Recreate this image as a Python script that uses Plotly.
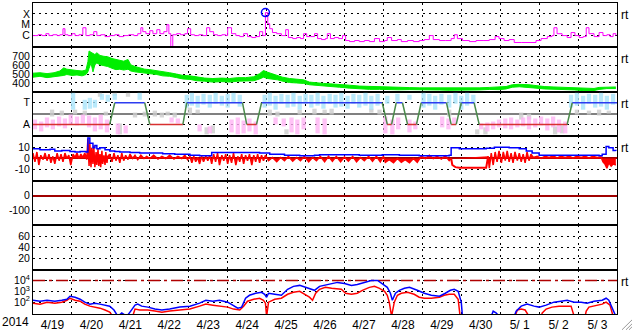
import plotly.graph_objects as go

# ---------------- data (time in days since 2014-04-19 00:00 UT) ----------------
day_labels = ["4/19", "4/20", "4/21", "4/22", "4/23", "4/24", "4/25", "4/26",
              "4/27", "4/28", "4/29", "4/30", "5/ 1", "5/ 2", "5/ 3"]
year_label = "2014"

# X-ray flux (W/m2)
xray_t = [0.00, 0.13, 0.23, 0.33, 0.41, 0.51, 0.62, 0.69, 0.77, 0.82, 0.90, 1.00, 1.08, 1.18, 1.28, 1.36,
          1.46, 1.56, 1.64, 1.74, 1.85, 1.97, 2.10, 2.21, 2.33, 2.46, 2.59, 2.69, 2.77, 2.82, 2.90, 3.00,
          3.08, 3.18, 3.26, 3.36, 3.44, 3.49, 3.54, 3.59, 3.69, 3.79, 3.90, 3.97, 4.05, 4.15, 4.26, 4.36,
          4.46, 4.54, 4.64, 4.74, 4.85, 4.95, 5.00, 5.10, 5.21, 5.31, 5.41, 5.51, 5.62, 5.72, 5.82, 5.90,
          5.97, 6.03, 6.08, 6.15, 6.26, 6.38, 6.49, 6.56, 6.67, 6.77, 6.87, 6.95, 7.03, 7.13, 7.23, 7.31,
          7.41, 7.51, 7.56, 7.64, 7.74, 7.85, 7.95, 8.03, 8.13, 8.26, 8.38, 8.51, 8.64, 8.77, 8.90, 9.03,
          9.10, 9.21, 9.36, 9.46, 9.62, 9.77, 9.92, 10.05, 10.18, 10.28, 10.44, 10.59, 10.74, 10.82, 10.90,
          11.03, 11.21, 11.38, 11.56, 11.72, 11.87, 11.97, 12.10, 12.23, 12.36, 12.54, 12.74, 12.92, 13.05,
          13.21, 13.33, 13.38, 13.46, 13.59, 13.72, 13.82, 13.92, 14.03, 14.13, 14.21, 14.28, 14.41, 14.54,
          14.64, 14.74, 14.82, 14.90, 14.97]
xray_flux = [1.0e-6, 1.2e-6, 1.0e-6, 1.5e-6, 1.0e-6, 1.2e-6, 1.0e-6, 1.2e-6, 4.3e-6, 1.2e-6, 1.0e-6, 1.5e-6,
             1.0e-6, 1.2e-6, 5.3e-6, 1.0e-6, 1.2e-6, 2.3e-6, 1.0e-6, 1.2e-6, 8.1e-7, 1.0e-6, 1.2e-6, 8.1e-7,
             1.0e-6, 1.2e-6, 1.0e-6, 1.5e-6, 5.3e-6, 2.3e-6, 1.5e-6, 2.8e-6, 1.5e-6, 3.5e-6, 1.5e-6, 2.3e-6,
             1.0e-5, 1.5e-6, 5e-8, 1.2e-6, 1.5e-6, 1.2e-6, 1.5e-6, 4.3e-6, 1.2e-6, 1.0e-6, 1.2e-6, 1.0e-6,
             5.3e-6, 2.3e-6, 1.2e-6, 1.0e-6, 1.2e-6, 1.0e-6, 5.3e-6, 1.5e-6, 1.0e-6, 8.1e-7, 1.5e-6, 8.1e-7,
             6.6e-7, 8.1e-7, 2.3e-6, 1.0e-6, 1.3e-4, 1.23e-5, 4.3e-6, 1.9e-6, 1.5e-6, 1.0e-6, 3.5e-6, 6.6e-7,
             5.3e-7, 6.6e-7, 5.3e-7, 1.5e-6, 8.1e-7, 8.1e-7, 1.5e-6, 5.3e-7, 4.3e-7, 5.3e-7, 1.5e-6, 5.3e-7,
             6.6e-7, 5.3e-7, 1.0e-6, 3.5e-7, 2.8e-7, 3.5e-7, 2.8e-7, 3.5e-7, 2.8e-7, 5.3e-7, 2.8e-7, 3.5e-7,
             6.6e-7, 3.5e-7, 4.3e-7, 2.8e-7, 3.5e-7, 2.8e-7, 3.5e-7, 4.3e-7, 1.0e-6, 4.3e-7, 3.5e-7, 3.5e-7,
             5.3e-7, 1.2e-6, 5.3e-7, 3.5e-7, 2.8e-7, 3.5e-7, 3.5e-7, 4.3e-7, 8.1e-7, 5.3e-7, 3.5e-7, 4.3e-7,
             2.3e-7, 2.3e-7, 2.3e-7, 3.5e-7, 5.3e-7, 8.1e-7, 1.0e-6, 5.3e-6, 1.5e-6, 1.0e-6, 6.6e-7, 1.9e-6,
             1.0e-6, 6.6e-7, 8.1e-7, 5.3e-6, 1.5e-6, 8.1e-7, 1.9e-6, 1.0e-6, 1.2e-6, 8.1e-7, 1.5e-6, 1.0e-6]
flare_t = [5.97]
flare_flux = [1.3e-4]

# Solar wind speed (km/s): lower / upper edge of the noisy trace
speed_t = [0.00, 0.18, 0.36, 0.54, 0.69, 0.79, 0.87, 1.00, 1.13, 1.26, 1.36, 1.41, 1.44, 1.49, 1.54, 1.59,
           1.64, 1.72, 1.82, 1.92, 2.03, 2.13, 2.23, 2.33, 2.44, 2.51, 2.62, 2.74, 2.87, 3.00, 3.18, 3.33,
           3.51, 3.69, 3.85, 4.03, 4.21, 4.41, 4.62, 4.85, 5.05, 5.26, 5.46, 5.67, 5.82, 5.92, 6.03, 6.15,
           6.28, 6.41, 6.59, 6.77, 6.95, 7.10, 7.28, 7.46, 7.64, 7.87, 8.13, 8.38, 8.64, 8.90, 9.15, 9.41,
           9.67, 9.92, 10.18, 10.44, 10.69, 10.95, 11.21, 11.46, 11.72, 11.97, 12.15, 12.31, 12.49, 12.74,
           12.92, 13.13, 13.38, 13.64, 13.90, 14.15, 14.41, 14.54, 14.74, 14.97]
speed_lo = [465, 475, 460, 470, 475, 485, 495, 485, 490, 480, 495, 525, 565, 625, 525, 605,
            625, 605, 595, 585, 565, 550, 555, 545, 555, 535, 525, 520, 515, 510, 495, 480,
            475, 460, 445, 440, 425, 420, 410, 415, 410, 420, 420, 425, 445, 465, 450, 445,
            435, 420, 405, 400, 395, 380, 372, 363, 358, 352, 342, 333, 328, 328, 323, 323,
            325, 321, 323, 321, 318, 318, 322, 322, 327, 325, 333, 352, 357, 352,
            342, 333, 332, 327, 322, 313, 315, 327, 337, 337]
speed_hi = [510, 515, 505, 515, 535, 570, 555, 545, 540, 535, 545, 640, 760, 745, 730, 720,
            740, 710, 700, 695, 675, 665, 655, 645, 665, 605, 585, 570, 555, 550, 540, 525,
            515, 500, 485, 480, 465, 455, 450, 455, 450, 460, 460, 470, 505, 540, 520, 500,
            485, 465, 450, 440, 435, 410, 400, 395, 390, 385, 375, 365, 360, 355, 350, 350,
            348, 345, 345, 343, 340, 340, 345, 345, 350, 355, 360, 380, 385, 380,
            370, 360, 355, 350, 345, 335, 338, 350, 356, 355]

# IMF sector: T = +1, A = -1 (predicted polarity, breakpoints)
sector_t = [0.00, 1.97, 2.10, 2.87, 3.00, 3.85, 3.95, 5.38, 5.49, 5.74, 5.87, 8.97, 9.10, 9.21, 9.33,
            9.49, 9.62, 9.85, 9.97, 10.62, 10.74, 10.87, 11.00, 11.33, 11.46, 13.72, 13.85, 15.00]
sector_v = [-1, -1, 1, 1, -1, -1, 1, 1, -1, -1, 1, 1, -1, -1, 1,
            1, -1, -1, 1, 1, -1, -1, 1, 1, -1, -1, 1, 1]

# observed field direction clouds (time, lower, upper) in sector units
toward_t = [1.03, 1.33, 1.46, 1.59, 1.77, 1.92, 2.10, 2.74, 3.95, 4.08, 4.23, 4.38, 4.54, 4.69, 4.85, 5.00,
            5.15, 5.31, 5.95, 6.08, 6.23, 6.38, 6.54, 6.69, 6.85, 7.00, 7.15, 7.31, 7.46, 7.62, 7.77, 7.92,
            8.08, 8.23, 8.38, 8.54, 8.69, 8.85, 9.10, 9.36, 9.67, 10.03, 10.18, 10.33, 10.49, 10.69, 10.85,
            11.00, 11.15, 11.31, 13.82, 13.97, 14.13, 14.28, 14.44, 14.59, 14.74, 14.90]
toward_lo = [0.36, 0.36, 0.45, 0.55, 1.27, 1.09, 1.27, 1.27, 0.55, 0.73, 0.55, 0.82, 0.55, 0.91, 0.73, 0.55,
             1.00, 0.64, 0.55, 0.73, 0.36, 0.91, 0.55, 0.64, 0.36, 0.91, 0.55, 0.73, 0.45, 0.91, 0.55, 0.64,
             0.45, 0.91, 0.55, 0.73, 0.36, 0.73, 0.91, 1.09, 1.27, 0.55, 0.73, 0.36, 0.82, 0.55, 0.91,
             0.36, 0.73, 0.91, 0.55, 0.73, 0.36, 0.91, 0.55, 0.64, 0.36, 0.82]
toward_hi = [1.91, 1.27, 1.45, 1.27, 1.82, 1.73, 1.82, 1.91, 1.73, 1.91, 1.64, 1.82, 1.73, 1.91, 1.64, 1.82,
             1.91, 1.73, 1.73, 1.91, 1.64, 1.82, 1.73, 1.91, 1.64, 1.82, 1.73, 1.91, 1.64, 1.82, 1.73, 1.91,
             1.64, 1.82, 1.73, 1.91, 1.64, 1.82, 1.64, 1.82, 1.73, 1.91, 1.82, 1.64, 1.82, 1.73, 1.91,
             1.64, 1.91, 1.73, 1.73, 1.91, 1.64, 1.82, 1.73, 1.91, 1.64, 1.82]
away_t = [0.05, 0.21, 0.36, 0.51, 0.67, 0.82, 0.97, 1.13, 1.28, 1.44, 1.59, 1.74, 1.90, 2.18, 2.38, 3.56,
          3.72, 4.28, 4.54, 5.10, 5.26, 5.41, 5.56, 5.72, 6.23, 6.44, 6.64, 6.79, 6.95, 7.31, 7.49, 9.05,
          9.23, 9.38, 9.67, 9.82, 10.51, 10.67, 10.82, 11.51, 11.67, 11.82, 11.97, 12.13, 12.28, 12.44,
          12.59, 12.74, 12.90, 13.05, 13.21, 13.36, 13.51, 13.67]
away_lo = [-1.45, -1.64, -1.27, -1.45, -1.18, -1.36, -1.00, -1.09, -0.91, -1.27, -1.64, -1.45, -1.73, -1.91,
           -1.82, -0.82, -0.91, -1.64, -1.82, -1.73, -1.91, -1.82, -1.64, -1.91, -1.00, -1.18, -1.73, -1.91,
           -1.45, -1.82, -1.91, -1.82, -1.91, -1.45, -1.73, -1.45, -1.27, -1.45, -0.91, -1.45, -1.64, -1.45,
           -1.27, -1.36, -1.45, -1.27, -1.18, -1.45, -1.27, -1.09, -1.55, -1.27, -1.73, -1.82]
away_hi = [-0.55, -0.73, -0.36, -0.55, -0.27, -0.45, -0.09, -0.27, -0.09, -0.18, -0.36, -0.09, -0.55, -0.91,
           -1.09, -0.36, -0.45, -1.00, -1.18, -0.55, -0.36, -0.64, -0.45, -0.73, -0.36, -0.45, -0.36, -0.55,
           -0.36, -0.36, -0.45, -0.27, -0.55, -0.36, -0.55, -0.73, -0.27, -0.45, -0.36, -0.91, -0.82, -0.73,
           -0.55, -0.45, -0.36, -0.55, -0.36, -0.27, -0.45, -0.27, -0.45, -0.27, -0.55, -0.73]
mixed_t = [0.49, 0.74, 1.08, 1.33, 1.72, 1.87, 2.10, 2.23, 2.44, 2.62, 2.87, 3.13, 3.31, 3.46, 3.64, 4.03,
           4.23, 4.46, 4.62, 6.08, 6.28, 6.51, 6.85, 7.23, 7.49, 7.67, 8.69, 8.90, 10.69, 11.41, 11.62,
           12.54, 12.74, 13.41, 13.59, 13.97, 14.28, 14.54, 14.79]
mixed_lo = [-0.27, -0.18, -0.09, -0.18, 1.55, -0.18, 1.64, -1.91, 1.55, -0.36, -0.27, -0.27, -0.36, -0.18,
            -0.36, -0.09, 0.00, -1.91, -1.82, -0.18, -0.27, -1.91, -0.09, -0.09, 0.00, -0.09, 0.09, -0.09,
            -0.27, -1.91, -1.91, -0.55, -0.55, -1.91, -1.82, -0.09, -0.09, -0.18, 0.00]
mixed_hi = [0.36, 0.27, 0.36, 0.27, 1.91, 0.18, 1.91, -0.91, 1.91, 0.09, 0.18, 0.27, 0.09, 0.18,
            0.09, 0.55, 0.36, -1.27, -1.09, 0.36, 0.18, -1.45, 0.36, 0.45, 0.36, 0.45, 0.45, 0.36,
            0.36, -1.45, -1.27, 0.09, 0.00, -1.18, -1.09, 0.36, 0.27, 0.36, 0.27]

# IMF Bt (nT)
bt_t = [0.00, 0.18, 0.44, 0.56, 0.74, 0.95, 1.08, 1.21, 1.36, 1.41, 1.46, 1.54, 1.59, 1.64, 1.72, 1.85,
        1.97, 2.10, 2.23, 2.49, 2.74, 3.00, 3.33, 3.64, 4.03, 4.28, 4.54, 4.59, 4.92, 5.23, 5.56, 5.82,
        6.08, 6.46, 6.85, 7.23, 7.36, 7.87, 8.38, 8.97, 9.41, 9.92, 10.44, 10.69, 10.74, 10.95, 11.21,
        11.64, 11.85, 12.23, 12.49, 12.67, 12.82, 13.00, 13.51, 14.03, 14.54, 14.62, 14.72, 14.79, 14.90,
        14.97]
bt_val = [9, 8, 8.5, 7, 7.5, 6.5, 6, 6.5, 6, 19, 14, 10, 12, 9, 10, 8,
          7, 6.5, 6, 5.5, 5, 5, 4.5, 4, 3, 2.5, 2.5, 5.5, 5.5, 5.5, 5.5, 5,
          4, 3, 2.5, 3, 3.5, 3.5, 3, 3.5, 3, 2.5, 2.5, 3, 10, 9, 9,
          9.5, 10.5, 10, 9, 7, 5, 3, 3, 3, 2.5, 4, 11, 10, 7.5, 7]

# IMF Bz (nT): noisy intervals (alternating dips / peaks) ...
bz_t = [0.00, 0.05, 0.10, 0.15, 0.20, 0.26, 0.31, 0.36, 0.41, 0.46, 0.51, 0.56, 0.62, 0.67, 0.72, 0.77,
        0.82, 0.87, 0.92, 0.97, 1.03, 1.08, 1.13, 1.18, 1.23, 1.28, 1.33, 1.38, 1.41, 1.44, 1.46, 1.49,
        1.51, 1.54, 1.56, 1.59, 1.62, 1.64, 1.67, 1.69, 1.72, 1.74, 1.77, 1.79, 1.82, 1.85, 1.87, 1.90,
        1.92, 1.97, 2.03, 2.08, 2.13, 2.18, 2.23, 2.28, 2.33, 2.38, 2.44, 2.49, 2.56, 2.62, 2.69, 2.77,
        2.85, 2.92, 3.00, 3.10, 3.21, 3.31, 3.41, 3.51, 3.62, 3.72, 3.82, 3.90, 3.97, 4.03, 4.08, 4.13,
        4.18, 4.23, 4.28, 4.33, 4.38, 4.44, 4.49, 4.54, 4.59, 4.64, 4.69, 4.74, 4.79, 4.85, 4.90, 4.95,
        5.00, 5.05, 5.10, 5.15, 5.21, 5.26, 5.31, 5.36, 5.41, 5.46, 5.51, 5.56, 5.62, 5.67, 5.72, 5.77,
        5.82, 5.87, 5.92, 5.97, 6.05, 6.15, 6.26, 6.36, 6.46, 6.56, 6.67, 6.77, 6.87, 6.97, 7.08, 7.18,
        7.28, 7.38, 7.49, 7.59, 7.69, 7.79, 7.90, 8.00, 8.10, 8.21, 8.31, 8.41, 8.51, 8.62, 8.72, 8.82,
        8.92, 9.00, 9.05, 9.15, 9.26, 9.36, 9.46, 9.56, 9.67, 9.77, 9.87, 9.97, 10.08, 10.18, 10.28,
        10.38, 10.49, 10.59, 10.69, 10.74, None,
        11.69, 11.72, 11.77,
        11.82, 11.87, 11.92, 11.97, 12.03, 12.08, 12.13, 12.18, 12.23, 12.28, 12.33, 12.38, 12.44, 12.49,
        12.54, 12.59, 12.64, 12.69, 12.74, 12.79, 12.85, 12.95, 13.05, 13.15, 13.26, 13.36, 13.46, 13.56,
        13.67, 13.77, 13.87, 13.97, 14.08, 14.18, 14.28, 14.38, 14.49, 14.59, 14.64, 14.69, 14.74, 14.79,
        14.85, 14.90, 14.97]
bz_val = [5, -3, 6, -6, 3, -1, 5, -2, 4, -4, 2, -5, 5, -2, 4, -3,
          5, 0, 3, -6, 4, 1, 5, 0, 4, 1, 5, -1, 18, -7, 14, -8,
          10, -5, 12, -8, 6, -6, 9, -7, 4, -8, 7, -5, 3, -6, 6, -4,
          2, 4, -3, 5, -2, 3, -4, 5, -2, 3, -1, 4, 0, 3, -1, 3,
          0, 2, 0, 3, -0.5, 2, 0, 3, -0.5, 2, 0, 3, -1, 2, -4, 2,
          -3, 1, -5, 2, -3, 2, -2, 3, -5, 4, -3, 5, -6, 3, -2, 4,
          -5, 3, -4, 5, -6, 2, -3, 4, -5, 3, -2, 4, -6, 3, -3, 4,
          -4, 3, -2, 3, -2, 1, -3, 1, -2, 2, -2.5, 1, -2, 2, -3, 1,
          -2, 2, -3, 2, -2.5, 2, -3, 1.5, -2.5, 2, -3, 1, -2, 2, -2.5, 2,
          -3, 2, -3.5, -1, -4, 0, -3.5, -1, -4, 0, -3.5, 2, 0, 3, 0,
          2, -0.5, 2.5, -2, 0, None,
          2, -9, 5,
          -6, 6, -3, 7, -4, 6, -2, 7, -3, 5, -4, 6, -2, 5,
          -3, 4, -4, 6, -2, 4, 1, 2, 0, 2, 1, 2.5, 0.5, 2,
          1, 2, 0.5, 2, 1, 2, 0.5, 2, 1, 1.5, -3, -5, -9, -4,
          -7, -5, -6]
# ... and the steady southward interval of 4/29-4/30
bz_steady_t = [10.74, 10.77, 10.85, 10.95, 11.10, 11.25, 11.40, 11.55, 11.64, 11.69]
bz_steady_val = [0, -6, -8, -8.5, -8.5, -8.5, -8.5, -8.5, -8.5, 2]

# Electron flux (two satellites); None = no data
e_blue_t = [0.00, 0.18, 0.36, 0.56, 0.74, 0.87, 0.95, 1.08, 1.21, 1.33, 1.46, 1.59, 1.72, 1.85, 1.97, 2.08,
            2.18, 2.28, 2.41, 2.51, 2.62, 2.69, 2.79, 2.95, 3.13, 3.31, 3.51, 3.77, 4.03, 4.28, 4.44, 4.62,
            4.79, 5.00, 5.15, 5.26, 5.36, 5.46, 5.56, 5.72, 5.87, 5.95, 6.00, 6.05, 6.21, 6.38, 6.54, 6.69,
            6.85, 7.00, 7.10, 7.23, 7.36, 7.62, 7.82, 8.00, 8.18, 8.33, 8.51, 8.69, 8.85, 8.97, 9.10, 9.18,
            9.23, 9.31, 9.41, 9.54, 9.67, 9.87, 10.05, 10.23, 10.44, 10.59, 10.72, 10.82, 10.92, 11.00, 11.03,
            11.04, 11.77, 11.82, 11.90, 11.97, 11.98, 12.36, 12.41, 12.54, 12.69, 12.87, 13.00, 13.18, 13.38,
            13.56, 13.72, 13.90, 14.08, 14.23, 14.41, 14.62, 14.72, 14.79, 14.90, 14.97]
e_blue = [150, 123, 150, 123, 150, 187, 350, 285, 187, 100, 66, 81, 66, 53, 43, 19,
          5, 10, 5, 15, 53, 66, 43, 35, 23, 19, 23, 35, 43, 81, 150, 123,
          150, 100, 53, 28, 35, 230, 430, 660, 810, 530, 285, 660, 530, 430, 1520, 2850,
          3500, 2300, 1520, 1230, 2850, 4300, 6600, 5300, 3500, 4300, 6600, 10000, 10000, 5300, 2300, 660,
          150, 660, 1230, 1870, 2300, 1230, 660, 430, 350, 660, 1230, 1520, 1000, 100, 5,
          None, 5, 15, 10, 5, None, 5, 15, 43, 66, 43, 35, 53, 100,
          123, 150, 100, 100, 81, 123, 150, 230, 150, 19, 5]
e_red_t = [0.00, 0.18, 0.36, 0.56, 0.74, 0.87, 0.95, 1.08, 1.21, 1.33, 1.46, 1.59, 1.72, 1.85, 1.97, 2.05,
           2.06, 2.56, 2.62, 2.74, 2.95, 3.13, 3.31, 3.51, 3.77, 4.03, 4.28, 4.44, 4.62, 4.79, 5.00, 5.15,
           5.31, 5.41, 5.51, 5.67, 5.82, 5.92, 5.97, 6.00, 6.05, 6.21, 6.38, 6.54, 6.69, 6.85, 7.00, 7.10,
           7.18, 7.26, 7.36, 7.51, 7.67, 7.82, 7.92, 8.03, 8.18, 8.33, 8.46, 8.64, 8.77, 8.90, 9.03, 9.10,
           9.15, 9.21, 9.28, 9.36, 9.46, 9.62, 9.79, 9.92, 10.05, 10.23, 10.44, 10.56, 10.69, 10.82, 10.92,
           10.97, 10.98, 12.38, 12.44, 12.54, 12.64, 12.74, 12.75, 13.05, 13.08, 13.18, 13.33, 13.51, 13.64,
           13.82, 13.90, 13.91, 14.18, 14.21, 14.28, 14.46, 14.62, 14.72, 14.82, 14.90]
e_red = [81, 66, 100, 81, 100, 150, 230, 150, 123, 66, 43, 35, 28, 19, 12, 5,
         None, 5, 23, 19, 19, 15, 12, 15, 19, 23, 43, 66, 53, 43, 35, 23,
         19, 43, 123, 187, 230, 150, 81, 5, 100, 187, 230, 530, 810, 1000, 430, 285,
         150, 660, 1520, 2300, 1870, 1520, 1520, 660, 530, 660, 1230, 2300, 2850, 1870, 1000, 430,
         100, 5, 100, 430, 660, 810, 530, 285, 230, 230, 285, 430, 530, 530, 187,
         5, None, 5, 19, 23, 19, 5, None, 5, 10, 23, 35, 43, 43,
         43, 5, None, 5, 15, 35, 53, 66, 100, 53, 5]
e_alert_level = 1e4

# ---------------- figure ----------------
FONT = "Liberation Sans, Arial, sans-serif"
N = 7
fig = go.Figure()


def axn(i):
    return ("x" if i == 1 else f"x{i}"), ("y" if i == 1 else f"y{i}")


# panel 1: X-ray
xa, ya = axn(1)
fig.add_trace(go.Scatter(x=xray_t, y=xray_flux, mode="lines", line=dict(color="#ff00ff", width=1, shape="hv"),
                         xaxis=xa, yaxis=ya))
fig.add_trace(go.Scatter(x=flare_t, y=flare_flux, mode="markers",
                         marker=dict(symbol="circle-open", size=8, color="#0000ff", line=dict(width=1.5)),
                         xaxis=xa, yaxis=ya))

# panel 2: speed
xa, ya = axn(2)
fig.add_trace(go.Scatter(x=speed_t, y=speed_lo, mode="lines", line=dict(color="#00ee00", width=1),
                         xaxis=xa, yaxis=ya))
fig.add_trace(go.Scatter(x=speed_t, y=speed_hi, mode="lines", line=dict(color="#00ee00", width=1),
                         fill="tonexty", fillcolor="#00ee00", xaxis=xa, yaxis=ya))

# panel 3: sector
xa, ya = axn(3)
for tt, lo, hi, col in [(mixed_t, mixed_lo, mixed_hi, "#cccccc"),
                        (away_t, away_lo, away_hi, "#ffb4f4"),
                        (toward_t, toward_lo, toward_hi, "#a8e4fa")]:
    fig.add_trace(go.Bar(x=tt, y=[h - l for l, h in zip(lo, hi)], base=lo, width=0.11,
                         marker=dict(color=col, line=dict(width=0)), opacity=0.8,
                         xaxis=xa, yaxis=ya))
seg = {"#2d3cf0": ([], []), "#d83030": ([], []), "#4a8a4a": ([], [])}
for k in range(len(sector_t) - 1):
    v0, v1 = sector_v[k], sector_v[k + 1]
    c = "#2d3cf0" if (v0 == 1 and v1 == 1) else ("#d83030" if (v0 == -1 and v1 == -1) else "#4a8a4a")
    seg[c][0].extend([sector_t[k], sector_t[k + 1], None])
    seg[c][1].extend([v0, v1, None])
for c, (sx, sy) in seg.items():
    fig.add_trace(go.Scatter(x=sx, y=sy, mode="lines", line=dict(color=c, width=1.5),
                             xaxis=xa, yaxis=ya))

# panel 4: IMF
xa, ya = axn(4)
fig.add_trace(go.Scatter(x=bz_t, y=bz_val, mode="lines", line=dict(color="#ff0000", width=1.5),
                         fill="tozeroy", fillcolor="#ff0000", connectgaps=False, xaxis=xa, yaxis=ya))
fig.add_trace(go.Scatter(x=bz_steady_t, y=bz_steady_val, mode="lines", line=dict(color="#ff0000", width=2),
                         xaxis=xa, yaxis=ya))
fig.add_trace(go.Scatter(x=bt_t, y=bt_val, mode="lines", line=dict(color="#0000ff", width=1.5, shape="hv"),
                         xaxis=xa, yaxis=ya))

# panels 5, 6: no data in this interval (keep the frames)
for i in (5, 6):
    xa, ya = axn(i)
    fig.add_trace(go.Scatter(x=[None], y=[None], mode="lines", xaxis=xa, yaxis=ya, hoverinfo="skip"))

# panel 7: electrons
xa, ya = axn(7)
fig.add_trace(go.Scatter(x=[0, 15], y=[e_alert_level, e_alert_level], mode="lines",
                         line=dict(color="#b00000", width=1.5, dash="12px,4px,3px,4px"),
                         xaxis=xa, yaxis=ya))
fig.add_trace(go.Scatter(x=e_red_t, y=e_red, mode="lines", line=dict(color="#ff0000", width=1.5),
                         connectgaps=False, xaxis=xa, yaxis=ya))
fig.add_trace(go.Scatter(x=e_blue_t, y=e_blue, mode="lines", line=dict(color="#0000ff", width=1.5),
                         connectgaps=False, xaxis=xa, yaxis=ya))

centers = [k + 0.5 for k in range(15)]
DOT = "2px,4px"
layout = dict(width=633, height=334, margin=dict(l=33, r=16, t=2, b=17),
              paper_bgcolor="white", plot_bgcolor="white", showlegend=False, barmode="overlay",
              font=dict(family=FONT, size=11, color="black"))

ycfg = {
    1: dict(type="log", range=[-7.09, -3.0], tickvals=[1e-4, 1e-5, 1e-6], ticktext=["X", "M", "C"]),
    2: dict(range=[300, 800], tickvals=[400, 500, 600, 700], ticktext=["400", "500", "600", "700"]),
    3: dict(range=[-2.09, 2.0], tickvals=[1, -1], ticktext=["T", "A"],
            zeroline=True, zerolinecolor="#808080", zerolinewidth=2),
    4: dict(range=[-20.5, 20.5], tickvals=[10, 0, -10], ticktext=["10", "0", "-10"],
            zeroline=True, zerolinecolor="#a00000", zerolinewidth=1.5),
    5: dict(range=[-200, 100], tickvals=[0, -100], ticktext=["0", "-100"],
            zeroline=True, zerolinecolor="#a00000", zerolinewidth=1.5),
    6: dict(range=[0, 80], tickvals=[60, 40, 20], ticktext=["60", "40", "20"]),
    7: dict(type="log", range=[0.91, 5.0], tickvals=[1e4, 1e3, 1e2],
            ticktext=["10<sup>4</sup>", "10<sup>3</sup>", "10<sup>2</sup>"]),
}

for i in range(1, N + 1):
    top = 1 - (i - 1) / N
    bot = 1 - i / N
    xname = "xaxis" if i == 1 else f"xaxis{i}"
    yname = "yaxis" if i == 1 else f"yaxis{i}"
    xa, ya = axn(i)
    layout[xname] = dict(domain=[0, 1], anchor=ya, range=[0, 15], showline=True, mirror=True,
                         linecolor="black", linewidth=1, ticks="", showgrid=False, zeroline=False,
                         tickmode="array", tickvals=centers, ticktext=day_labels,
                         showticklabels=(i == N), tickfont=dict(size=12),
                         minor=dict(tickmode="array", tickvals=list(range(1, 15)), showgrid=True,
                                    gridcolor="black", griddash=DOT, gridwidth=1, ticks=""))
    yc = dict(domain=[bot, top], anchor=xa, showline=True, mirror=True, linecolor="black", linewidth=1,
              ticks="", showgrid=True, gridcolor="black", griddash=DOT, gridwidth=1,
              zeroline=False, tickmode="array", fixedrange=True, tickfont=dict(size=10.5))
    yc.update(ycfg[i])
    layout[yname] = yc

annotations = [dict(text=year_label, xref="paper", yref="paper", x=-0.03, y=-0.026,
                    xanchor="center", yanchor="middle", showarrow=False, font=dict(size=12))]
for i in [1, 2, 3, 4, 7]:
    top = 1 - (i - 1) / N
    annotations.append(dict(text="rt", xref="paper", yref="paper", x=1, y=top, xanchor="left",
                            yanchor="top", xshift=2, yshift=-3, showarrow=False, font=dict(size=12)))
layout["annotations"] = annotations

# window resize grip (decoration)
layout["shapes"] = [
    dict(type="line", xref="paper", yref="paper", x0=(622 - 33) / 584, y0=(317 - 333) / 315,
         x1=(632 - 33) / 584, y1=(317 - 323) / 315, line=dict(color="#999999", width=1)),
    dict(type="line", xref="paper", yref="paper", x0=(626 - 33) / 584, y0=(317 - 333) / 315,
         x1=(632 - 33) / 584, y1=(317 - 327) / 315, line=dict(color="#999999", width=1)),
    dict(type="line", xref="paper", yref="paper", x0=(629 - 33) / 584, y0=(317 - 333) / 315,
         x1=(632 - 33) / 584, y1=(317 - 330) / 315, line=dict(color="#999999", width=1)),
]

fig.update_layout(**layout)
fig.write_html("out.html")
